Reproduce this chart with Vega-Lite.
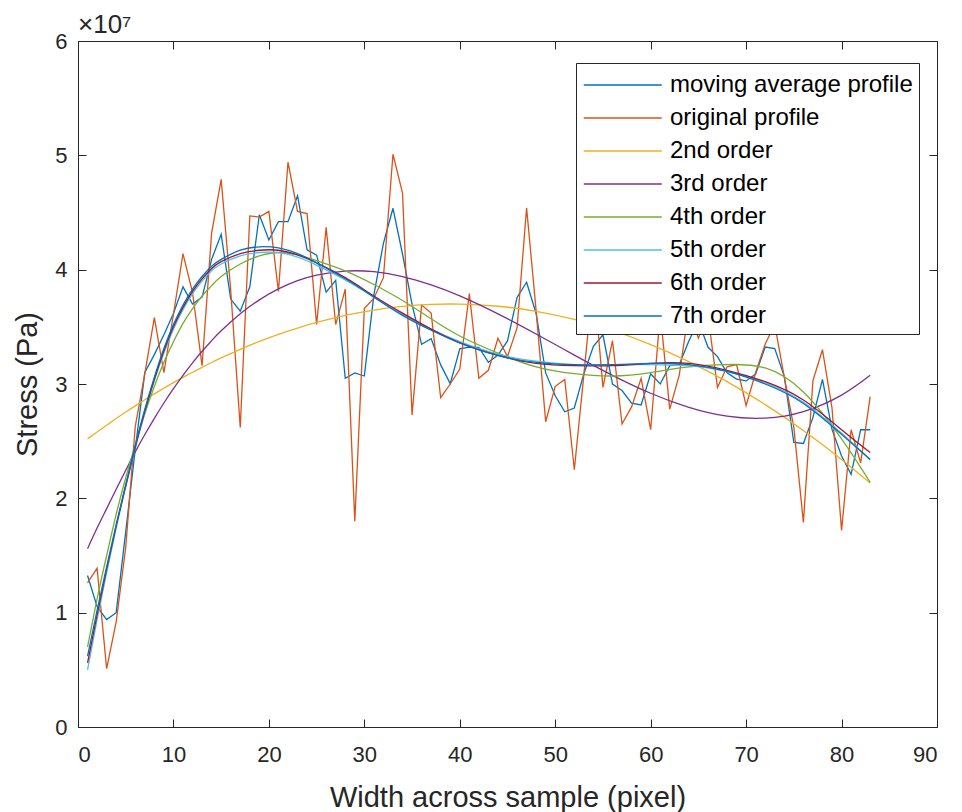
{
  "$schema": "https://vega.github.io/schema/vega-lite/v6.json",
  "width": 859,
  "height": 686,
  "autosize": {"type": "none"},
  "padding": {"left": 78, "top": 41, "right": 25, "bottom": 85},
  "background": "white",
  "config": {
    "view": {"stroke": "#262626", "strokeWidth": 1},
    "font": "Liberation Sans",
    "axis": {
      "grid": false,
      "domainColor": "#262626",
      "tickColor": "#262626",
      "labelColor": "#262626",
      "titleColor": "#262626",
      "labelFont": "Liberation Sans",
      "titleFont": "Liberation Sans",
      "labelFontSize": 22,
      "titleFontSize": 29,
      "titleFontWeight": "normal",
      "tickSize": -8,
      "domainWidth": 1,
      "tickWidth": 1
    }
  },
  "title": {
    "text": "×10⁷",
    "anchor": "start",
    "frame": "group",
    "fontSize": 26,
    "fontWeight": "normal",
    "font": "Liberation Sans",
    "color": "#262626",
    "offset": -8
  },
  "datasets": {
    "profiles": [
      {"x": 1, "original profile": 1.26e7, "moving average profile": 1.325e7},
      {"x": 2, "original profile": 1.39e7, "moving average profile": 1.053e7},
      {"x": 3, "original profile": 0.51e7, "moving average profile": 0.94e7},
      {"x": 4, "original profile": 0.92e7, "moving average profile": 1.0e7},
      {"x": 5, "original profile": 1.57e7, "moving average profile": 1.707e7},
      {"x": 6, "original profile": 2.63e7, "moving average profile": 2.43e7},
      {"x": 7, "original profile": 3.09e7, "moving average profile": 3.1e7},
      {"x": 8, "original profile": 3.58e7, "moving average profile": 3.257e7},
      {"x": 9, "original profile": 3.1e7, "moving average profile": 3.43e7},
      {"x": 10, "original profile": 3.61e7, "moving average profile": 3.617e7},
      {"x": 11, "original profile": 4.14e7, "moving average profile": 3.85e7},
      {"x": 12, "original profile": 3.8e7, "moving average profile": 3.7e7},
      {"x": 13, "original profile": 3.16e7, "moving average profile": 3.76e7},
      {"x": 14, "original profile": 4.32e7, "moving average profile": 4.09e7},
      {"x": 15, "original profile": 4.79e7, "moving average profile": 4.31e7},
      {"x": 16, "original profile": 3.82e7, "moving average profile": 3.743e7},
      {"x": 17, "original profile": 2.62e7, "moving average profile": 3.637e7},
      {"x": 18, "original profile": 4.47e7, "moving average profile": 3.85e7},
      {"x": 19, "original profile": 4.46e7, "moving average profile": 4.48e7},
      {"x": 20, "original profile": 4.51e7, "moving average profile": 4.26e7},
      {"x": 21, "original profile": 3.81e7, "moving average profile": 4.42e7},
      {"x": 22, "original profile": 4.94e7, "moving average profile": 4.42e7},
      {"x": 23, "original profile": 4.51e7, "moving average profile": 4.647e7},
      {"x": 24, "original profile": 4.49e7, "moving average profile": 4.173e7},
      {"x": 25, "original profile": 3.52e7, "moving average profile": 4.127e7},
      {"x": 26, "original profile": 4.37e7, "moving average profile": 3.803e7},
      {"x": 27, "original profile": 3.52e7, "moving average profile": 3.907e7},
      {"x": 28, "original profile": 3.83e7, "moving average profile": 3.05e7},
      {"x": 29, "original profile": 1.8e7, "moving average profile": 3.097e7},
      {"x": 30, "original profile": 3.66e7, "moving average profile": 3.07e7},
      {"x": 31, "original profile": 3.75e7, "moving average profile": 3.78e7},
      {"x": 32, "original profile": 3.93e7, "moving average profile": 4.23e7},
      {"x": 33, "original profile": 5.01e7, "moving average profile": 4.537e7},
      {"x": 34, "original profile": 4.67e7, "moving average profile": 4.137e7},
      {"x": 35, "original profile": 2.73e7, "moving average profile": 3.697e7},
      {"x": 36, "original profile": 3.69e7, "moving average profile": 3.347e7},
      {"x": 37, "original profile": 3.62e7, "moving average profile": 3.397e7},
      {"x": 38, "original profile": 2.88e7, "moving average profile": 3.167e7},
      {"x": 39, "original profile": 3.0e7, "moving average profile": 3.003e7},
      {"x": 40, "original profile": 3.13e7, "moving average profile": 3.307e7},
      {"x": 41, "original profile": 3.79e7, "moving average profile": 3.323e7},
      {"x": 42, "original profile": 3.05e7, "moving average profile": 3.32e7},
      {"x": 43, "original profile": 3.12e7, "moving average profile": 3.19e7},
      {"x": 44, "original profile": 3.4e7, "moving average profile": 3.253e7},
      {"x": 45, "original profile": 3.24e7, "moving average profile": 3.377e7},
      {"x": 46, "original profile": 3.49e7, "moving average profile": 3.757e7},
      {"x": 47, "original profile": 4.54e7, "moving average profile": 3.89e7},
      {"x": 48, "original profile": 3.64e7, "moving average profile": 3.617e7},
      {"x": 49, "original profile": 2.67e7, "moving average profile": 3.097e7},
      {"x": 50, "original profile": 2.98e7, "moving average profile": 2.897e7},
      {"x": 51, "original profile": 3.04e7, "moving average profile": 2.757e7},
      {"x": 52, "original profile": 2.25e7, "moving average profile": 2.79e7},
      {"x": 53, "original profile": 3.08e7, "moving average profile": 3.09e7},
      {"x": 54, "original profile": 3.94e7, "moving average profile": 3.33e7},
      {"x": 55, "original profile": 2.97e7, "moving average profile": 3.43e7},
      {"x": 56, "original profile": 3.38e7, "moving average profile": 3.0e7},
      {"x": 57, "original profile": 2.65e7, "moving average profile": 2.943e7},
      {"x": 58, "original profile": 2.8e7, "moving average profile": 2.833e7},
      {"x": 59, "original profile": 3.05e7, "moving average profile": 2.817e7},
      {"x": 60, "original profile": 2.6e7, "moving average profile": 3.09e7},
      {"x": 61, "original profile": 3.62e7, "moving average profile": 3.0e7},
      {"x": 62, "original profile": 2.78e7, "moving average profile": 3.16e7},
      {"x": 63, "original profile": 3.08e7, "moving average profile": 3.17e7},
      {"x": 64, "original profile": 3.65e7, "moving average profile": 3.377e7},
      {"x": 65, "original profile": 3.4e7, "moving average profile": 3.55e7},
      {"x": 66, "original profile": 3.6e7, "moving average profile": 3.323e7},
      {"x": 67, "original profile": 2.97e7, "moving average profile": 3.24e7},
      {"x": 68, "original profile": 3.15e7, "moving average profile": 3.097e7},
      {"x": 69, "original profile": 3.17e7, "moving average profile": 3.043e7},
      {"x": 70, "original profile": 2.81e7, "moving average profile": 3.027e7},
      {"x": 71, "original profile": 3.1e7, "moving average profile": 3.087e7},
      {"x": 72, "original profile": 3.35e7, "moving average profile": 3.323e7},
      {"x": 73, "original profile": 3.52e7, "moving average profile": 3.31e7},
      {"x": 74, "original profile": 3.06e7, "moving average profile": 3.067e7},
      {"x": 75, "original profile": 2.62e7, "moving average profile": 2.49e7},
      {"x": 76, "original profile": 1.79e7, "moving average profile": 2.48e7},
      {"x": 77, "original profile": 3.03e7, "moving average profile": 2.707e7},
      {"x": 78, "original profile": 3.3e7, "moving average profile": 3.04e7},
      {"x": 79, "original profile": 2.79e7, "moving average profile": 2.603e7},
      {"x": 80, "original profile": 1.72e7, "moving average profile": 2.37e7},
      {"x": 81, "original profile": 2.6e7, "moving average profile": 2.21e7},
      {"x": 82, "original profile": 2.31e7, "moving average profile": 2.6e7},
      {"x": 83, "original profile": 2.89e7, "moving average profile": 2.6e7}
    ],
    "fits": [
      {"x": 1, "2nd order": 2.52e7, "3rd order": 1.56e7, "4th order": 0.7e7, "5th order": 0.5e7, "6th order": 0.56e7, "7th order": 0.62e7},
      {"x": 2, "2nd order": 2.581e7, "3rd order": 1.74e7, "4th order": 1.12e7, "5th order": 0.94e7, "6th order": 0.98e7, "7th order": 1.02e7},
      {"x": 3, "2nd order": 2.64e7, "3rd order": 1.91e7, "4th order": 1.5e7, "5th order": 1.35e7, "6th order": 1.38e7, "7th order": 1.4e7},
      {"x": 4, "2nd order": 2.698e7, "3rd order": 2.08e7, "4th order": 1.86e7, "5th order": 1.74e7, "6th order": 1.76e7, "7th order": 1.77e7},
      {"x": 5, "2nd order": 2.755e7, "3rd order": 2.245e7, "4th order": 2.18e7, "5th order": 2.1e7, "6th order": 2.11e7, "7th order": 2.12e7},
      {"x": 6, "2nd order": 2.809e7, "3rd order": 2.406e7, "4th order": 2.47e7, "5th order": 2.44e7, "6th order": 2.45e7, "7th order": 2.46e7},
      {"x": 7, "2nd order": 2.862e7, "3rd order": 2.558e7, "4th order": 2.74e7, "5th order": 2.75e7, "6th order": 2.76e7, "7th order": 2.78e7},
      {"x": 8, "2nd order": 2.914e7, "3rd order": 2.7e7, "4th order": 2.98e7, "5th order": 3.03e7, "6th order": 3.04e7, "7th order": 3.06e7},
      {"x": 9, "2nd order": 2.963e7, "3rd order": 2.834e7, "4th order": 3.19e7, "5th order": 3.27e7, "6th order": 3.29e7, "7th order": 3.31e7},
      {"x": 10, "2nd order": 3.012e7, "3rd order": 2.959e7, "4th order": 3.37e7, "5th order": 3.48e7, "6th order": 3.5e7, "7th order": 3.52e7},
      {"x": 11, "2nd order": 3.058e7, "3rd order": 3.076e7, "4th order": 3.53e7, "5th order": 3.65e7, "6th order": 3.67e7, "7th order": 3.69e7},
      {"x": 12, "2nd order": 3.103e7, "3rd order": 3.185e7, "4th order": 3.66e7, "5th order": 3.79e7, "6th order": 3.81e7, "7th order": 3.83e7},
      {"x": 13, "2nd order": 3.146e7, "3rd order": 3.286e7, "4th order": 3.77e7, "5th order": 3.9e7, "6th order": 3.92e7, "7th order": 3.94e7},
      {"x": 14, "2nd order": 3.188e7, "3rd order": 3.379e7, "4th order": 3.86e7, "5th order": 3.99e7, "6th order": 4.01e7, "7th order": 4.03e7},
      {"x": 15, "2nd order": 3.228e7, "3rd order": 3.465e7, "4th order": 3.94e7, "5th order": 4.05e7, "6th order": 4.07e7, "7th order": 4.09e7},
      {"x": 17, "2nd order": 3.303e7, "3rd order": 3.614e7, "4th order": 4.05e7, "5th order": 4.12e7, "6th order": 4.14e7, "7th order": 4.17e7},
      {"x": 19, "2nd order": 3.372e7, "3rd order": 3.736e7, "4th order": 4.12e7, "5th order": 4.15e7, "6th order": 4.17e7, "7th order": 4.2e7},
      {"x": 21, "2nd order": 3.434e7, "3rd order": 3.832e7, "4th order": 4.15e7, "5th order": 4.15e7, "6th order": 4.17e7, "7th order": 4.19e7},
      {"x": 23, "2nd order": 3.489e7, "3rd order": 3.904e7, "4th order": 4.13e7, "5th order": 4.11e7, "6th order": 4.13e7, "7th order": 4.14e7},
      {"x": 25, "2nd order": 3.538e7, "3rd order": 3.953e7, "4th order": 4.08e7, "5th order": 4.04e7, "6th order": 4.06e7, "7th order": 4.06e7},
      {"x": 28, "2nd order": 3.6e7, "3rd order": 3.988e7, "4th order": 3.99e7, "5th order": 3.91e7, "6th order": 3.93e7, "7th order": 3.92e7},
      {"x": 31, "2nd order": 3.647e7, "3rd order": 3.982e7, "4th order": 3.87e7, "5th order": 3.76e7, "6th order": 3.77e7, "7th order": 3.76e7},
      {"x": 34, "2nd order": 3.679e7, "3rd order": 3.94e7, "4th order": 3.73e7, "5th order": 3.61e7, "6th order": 3.62e7, "7th order": 3.6e7},
      {"x": 37, "2nd order": 3.696e7, "3rd order": 3.867e7, "4th order": 3.57e7, "5th order": 3.48e7, "6th order": 3.48e7, "7th order": 3.47e7},
      {"x": 40, "2nd order": 3.699e7, "3rd order": 3.771e7, "4th order": 3.42e7, "5th order": 3.37e7, "6th order": 3.36e7, "7th order": 3.36e7},
      {"x": 44, "2nd order": 3.68e7, "3rd order": 3.614e7, "4th order": 3.27e7, "5th order": 3.26e7, "6th order": 3.25e7, "7th order": 3.25e7},
      {"x": 48, "2nd order": 3.636e7, "3rd order": 3.437e7, "4th order": 3.15e7, "5th order": 3.2e7, "6th order": 3.18e7, "7th order": 3.19e7},
      {"x": 52, "2nd order": 3.565e7, "3rd order": 3.253e7, "4th order": 3.09e7, "5th order": 3.17e7, "6th order": 3.16e7, "7th order": 3.17e7},
      {"x": 56, "2nd order": 3.468e7, "3rd order": 3.076e7, "4th order": 3.07e7, "5th order": 3.17e7, "6th order": 3.16e7, "7th order": 3.17e7},
      {"x": 60, "2nd order": 3.345e7, "3rd order": 2.919e7, "4th order": 3.1e7, "5th order": 3.17e7, "6th order": 3.18e7, "7th order": 3.18e7},
      {"x": 64, "2nd order": 3.196e7, "3rd order": 2.796e7, "4th order": 3.15e7, "5th order": 3.16e7, "6th order": 3.18e7, "7th order": 3.17e7},
      {"x": 68, "2nd order": 3.021e7, "3rd order": 2.719e7, "4th order": 3.17e7, "5th order": 3.11e7, "6th order": 3.12e7, "7th order": 3.11e7},
      {"x": 72, "2nd order": 2.82e7, "3rd order": 2.702e7, "4th order": 3.14e7, "5th order": 3.01e7, "6th order": 3.02e7, "7th order": 3.0e7},
      {"x": 76, "2nd order": 2.593e7, "3rd order": 2.759e7, "4th order": 2.93e7, "5th order": 2.84e7, "6th order": 2.86e7, "7th order": 2.83e7},
      {"x": 80, "2nd order": 2.34e7, "3rd order": 2.903e7, "4th order": 2.52e7, "5th order": 2.57e7, "6th order": 2.6e7, "7th order": 2.56e7},
      {"x": 83, "2nd order": 2.133e7, "3rd order": 3.076e7, "4th order": 2.14e7, "5th order": 2.34e7, "6th order": 2.4e7, "7th order": 2.34e7}
    ]
  },
  "layer": [
    {
      "data": {"name": "profiles"},
      "transform": [{"fold": ["moving average profile", "original profile"], "as": ["series", "stress"]}],
      "mark": {"type": "line", "strokeWidth": 1.3},
      "encoding": {
        "x": {
          "field": "x", "type": "quantitative",
          "scale": {"domain": [0, 90], "nice": false},
          "axis": {"orient": "bottom", "values": [0, 10, 20, 30, 40, 50, 60, 70, 80, 90], "title": "Width across sample (pixel)", "labelPadding": 25, "titlePadding": 18}
        },
        "y": {
          "field": "stress", "type": "quantitative",
          "scale": {"domain": [0, 60000000], "nice": false},
          "axis": {"orient": "left", "values": [0, 10000000, 20000000, 30000000, 40000000, 50000000, 60000000], "labelExpr": "format(datum.value / 10000000, 'd')", "title": "Stress (Pa)", "labelPadding": 19, "titlePadding": 12}
        },
        "color": {
          "field": "series", "type": "nominal",
          "scale": {
            "domain": ["moving average profile", "original profile", "2nd order", "3rd order", "4th order", "5th order", "6th order", "7th order"],
            "range": ["#0072BD", "#D95319", "#EDB120", "#7E2F8E", "#77AC30", "#4DBEEE", "#A2142F", "#0072BD"]
          },
          "legend": {
            "title": null,
            "orient": "none",
            "legendX": 498,
            "legendY": 22,
            "strokeColor": "#262626",
            "fillColor": "white",
            "padding": 6,
            "symbolType": "M-0.95,0H4.25",
            "symbolSize": 900,
            "symbolStrokeWidth": 1.3,
            "symbolOffset": 0,
            "labelOffset": 56,
            "labelFontSize": 24,
            "labelFont": "Liberation Sans",
            "labelColor": "black",
            "labelLimit": 400,
            "rowPadding": 5
          }
        }
      }
    },
    {
      "data": {"name": "fits"},
      "transform": [{"fold": ["2nd order", "3rd order", "4th order", "5th order", "6th order", "7th order"], "as": ["series", "stress"]}],
      "mark": {"type": "line", "strokeWidth": 1.3, "interpolate": "natural"},
      "encoding": {
        "x": {"field": "x", "type": "quantitative", "axis": null},
        "y": {"field": "stress", "type": "quantitative", "axis": null},
        "color": {"field": "series", "type": "nominal"}
      }
    },
    {
      "data": {"name": "fits"},
      "mark": {"type": "line", "opacity": 0},
      "encoding": {
        "x": {"field": "x", "type": "quantitative", "axis": {"orient": "top", "values": [0, 10, 20, 30, 40, 50, 60, 70, 80, 90], "labels": false, "title": null, "domain": false}},
        "y": {"field": "2nd order", "type": "quantitative", "axis": {"orient": "right", "values": [0, 10000000, 20000000, 30000000, 40000000, 50000000, 60000000], "labels": false, "title": null, "domain": false}}
      }
    }
  ],
  "resolve": {"axis": {"x": "independent", "y": "independent"}}
}
